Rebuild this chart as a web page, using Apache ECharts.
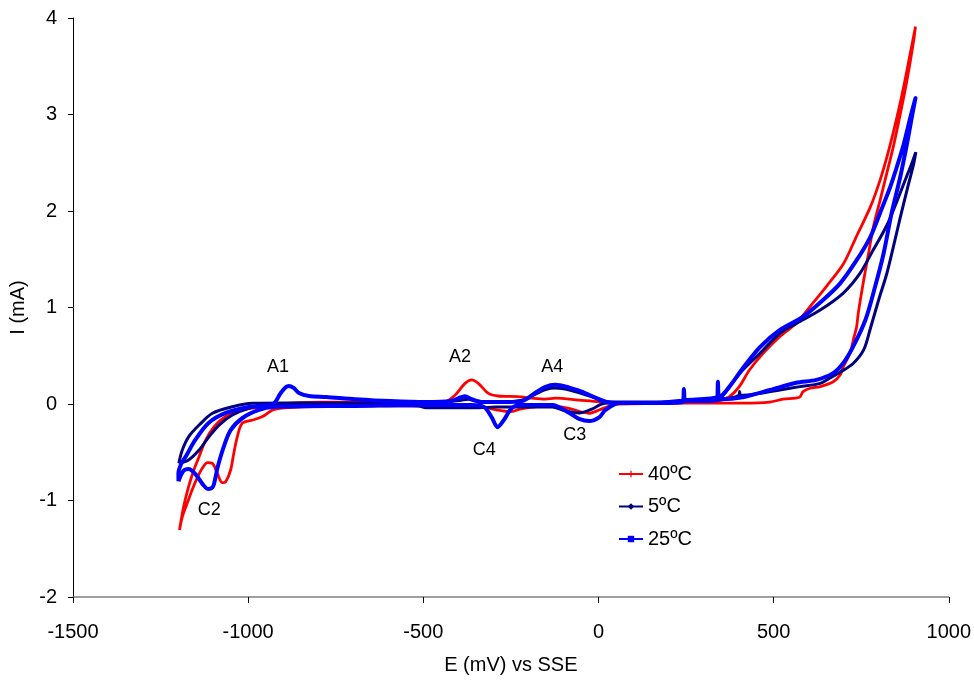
<!DOCTYPE html>
<html>
<head>
<meta charset="utf-8">
<script src="https://cdn.jsdelivr.net/npm/echarts@6/dist/echarts.min.js"></script>
<style>html,body{margin:0;padding:0;background:#fff}#c{width:974px;height:686px}</style>
</head>
<body>
<div id="c"></div>
<script>
// Series names
const seriesNames = ['40ºC', '5ºC', '25ºC'];

// 40 ºC : [E (mV), I (mA)]
const red40 = [
 [-1196,-1.306],[-1193,-1.24],[-1184,-1.06],[-1170,-0.857],[-1155,-0.684],[-1140,-0.546],[-1121,-0.373],
 [-1097,-0.235],[-1064,-0.13],[-1017,-0.062],[-959,-0.028],[-902,0],[-855,0.014],[-795,0.02],[-694,0.02],
 [-594,0.02],[-493,0.02],[-439,0.024],[-409,0.093],[-381,0.214],[-362,0.25],[-343,0.214],[-314,0.11],
 [-286,0.083],[-228,0.076],[-190,0.06],[-152,0.05],[-122,0.06],[-56,0.041],[2,0.024],[59,0.014],
 [212,0.01],[313,0.01],[413,0.01],[489,0.02],[527,0.05],[574,0.07],[584,0.128],[604,0.163],[633,0.18],
 [670,0.23],[690,0.30],[699,0.387],[718,0.525],[730,0.70],[737,0.80],[742,0.95],[757,1.28],[771,1.56],
 [785,1.84],[804,2.11],[823,2.39],[842,2.67],[862,3.01],[881,3.36],[900,3.77],[905,3.91],
 [891,3.65],[872,3.30],[852,2.97],[828,2.62],[804,2.32],[776,2.04],[737,1.74],[699,1.45],[651,1.22],
 [604,1.01],[565,0.836],[518,0.70],[470,0.525],[431,0.352],[402,0.18],[374,0.076],[346,0.04],[212,0.01],
 [59,0.0],[41,-0.01],[2,-0.062],[-28,-0.096],[-85,-0.045],[-141,-0.02],[-221,-0.05],[-251,-0.08],
 [-292,-0.06],[-332,-0.03],[-493,-0.02],[-694,-0.02],[-896,-0.04],[-930,-0.062],[-959,-0.13],[-987,-0.166],
 [-1017,-0.2],[-1031,-0.34],[-1041,-0.51],[-1050,-0.684],[-1064,-0.805],[-1074,-0.815],[-1088,-0.718],
 [-1102,-0.615],[-1116,-0.608],[-1131,-0.666],[-1146,-0.77],[-1160,-0.89],[-1174,-1.03],[-1188,-1.17],[-1196,-1.306]
];

// 5 ºC
const navy5 = [
 [-1198,-0.615],[-1188,-0.477],[-1170,-0.34],[-1140,-0.218],[-1102,-0.096],[-1045,-0.028],[-987,0.007],
 [-896,0.01],[-795,0.01],[-594,0.01],[-443,0.02],[-392,0.04],[-372,0.05],[-352,0.03],[-292,0.02],
 [-218,0.04],[-181,0.10],[-151,0.15],[-123,0.166],[-83,0.145],[-17,0.073],[31,0.02],[155,0.02],[346,0.041],
 [401,0.09],[403,0.13],[405,0.09],[461,0.11],[518,0.145],[575,0.18],[633,0.214],[661,0.27],[690,0.33],
 [727,0.42],[757,0.56],[776,0.78],[800,1.08],[823,1.35],[842,1.63],[862,1.94],[881,2.22],[900,2.49],[906,2.61],
 [893,2.48],[881,2.37],[852,2.10],[823,1.85],[785,1.60],[746,1.35],[699,1.15],[633,0.974],[565,0.836],
 [518,0.733],[461,0.525],[412,0.352],[374,0.18],[346,0.06],[249,0.03],[155,0.02],[31,0.01],[9,0],
 [-17,-0.05],[-55,-0.093],[-95,-0.07],[-132,-0.03],[-191,-0.03],[-292,-0.03],[-342,-0.04],[-493,-0.04],
 [-513,-0.02],[-694,-0.01],[-949,-0.01],[-998,-0.045],[-1045,-0.114],[-1083,-0.218],[-1112,-0.34],
 [-1140,-0.477],[-1170,-0.58],[-1198,-0.615]
];

// 25 ºC
const blue25 = [
 [-1199,-0.80],[-1199,-0.715],[-1190,-0.61],[-1179,-0.55],[-1151,-0.373],[-1113,-0.197],[-1064,-0.093],
 [-998,-0.031],[-929,0],[-907,0.114],[-892,0.176],[-884,0.187],[-870,0.166],[-855,0.114],[-826,0.083],
 [-777,0.073],[-694,0.05],[-594,0.03],[-493,0.02],[-423,0.03],[-392,0.07],[-381,0.08],[-362,0.05],
 [-332,0.02],[-271,0.02],[-218,0.03],[-181,0.114],[-153,0.176],[-123,0.20],[-83,0.17],[-50,0.13],
 [-26,0.093],[20,0.025],[60,0.01],[155,0.01],[240,0.02],[244,0.155],[248,0.03],[338,0.04],[341,0.23],
 [345,0.05],[412,0.07],[490,0.145],[564,0.22],[622,0.25],[670,0.32],[699,0.425],[727,0.594],[762,0.87],
 [790,1.22],[814,1.56],[837,1.98],[862,2.36],[881,2.70],[895,2.98],[905,3.17],
 [891,2.98],[872,2.70],[852,2.46],[833,2.25],[804,1.98],[776,1.73],[737,1.49],[690,1.25],[642,1.08],
 [584,0.905],[518,0.767],[461,0.59],[412,0.37],[374,0.18],[346,0.076],[249,0.04],[155,0.01],[60,0.01],
 [20,-0.062],[3,-0.135],[-26,-0.176],[-55,-0.155],[-83,-0.093],[-132,-0.01],[-218,-0.01],[-247,-0.04],
 [-270,-0.166],[-288,-0.24],[-305,-0.135],[-327,-0.03],[-362,-0.01],[-493,-0.01],[-694,-0.02],
 [-929,-0.031],[-969,-0.062],[-1016,-0.145],[-1050,-0.27],[-1070,-0.446],[-1087,-0.653],[-1093,-0.756],
 [-1101,-0.86],[-1115,-0.88],[-1130,-0.83],[-1151,-0.725],[-1170,-0.674],[-1185,-0.694],[-1199,-0.80]
];

// Peak annotations: [E, I] of label centre
const peakNames = ['A1', 'A2', 'A4', 'C4', 'C3', 'C2'];
const peakPos = [[-915,0.383],[-395,0.482],[-132,0.383],[-326,-0.482],[-68,-0.321],[-1111,-1.098]];

const FONT = '"Liberation Sans", Arial, sans-serif';
const chart = echarts.init(document.getElementById('c'), null, {renderer: 'canvas'});
const plusPath = 'path://M4,0H6V4H10V6H6V10H4V6H0V4H4Z';

chart.setOption({
  animation: false,
  backgroundColor: '#fff',
  grid: {left: 73, right: 24, top: 18, bottom: 89, containLabel: false},
  xAxis: {
    type: 'value', min: -1500, max: 1000, interval: 500,
    name: 'E (mV) vs SSE', nameLocation: 'middle', nameGap: 58,
    nameTextStyle: {fontFamily: FONT, fontSize: 20, color: '#000'},
    axisLine: {onZero: false, lineStyle: {color: '#808080', width: 1.5}},
    axisTick: {show: true, inside: false, length: 6, lineStyle: {color: '#000'}},
    axisLabel: {fontFamily: FONT, fontSize: 20, color: '#000', margin: 25, formatter: v => String(v)},
    splitLine: {show: false}
  },
  yAxis: {
    type: 'value', min: -2, max: 4, interval: 1,
    name: 'I (mA)', nameLocation: 'middle', nameGap: 38, nameRotate: 90,
    nameTextStyle: {fontFamily: FONT, fontSize: 20, color: '#000'},
    axisLine: {onZero: false, lineStyle: {color: '#000', width: 1}},
    axisTick: {show: true, inside: false, length: 5, lineStyle: {color: '#000'}},
    axisLabel: {fontFamily: FONT, fontSize: 20, color: '#000', margin: 16, formatter: v => String(v)},
    splitLine: {show: false}
  },
  legend: {
    orient: 'vertical', left: 618, top: 464, padding: 0, itemWidth: 24, itemHeight: 8, itemGap: 12.5,
    textStyle: {fontFamily: FONT, fontSize: 20, color: '#000'},
    data: seriesNames
  },
  series: [
    {name: seriesNames[0], type: 'line', data: red40, showSymbol: false, symbol: plusPath, symbolSize: 5,
     smooth: 0.3, lineStyle: {color: '#FF0000', width: 2.8}, itemStyle: {color: '#FF0000'}, z: 2},
    {name: seriesNames[1], type: 'line', data: navy5, showSymbol: false, symbol: 'diamond', symbolSize: 5,
     smooth: 0.3, lineStyle: {color: '#000080', width: 3}, itemStyle: {color: '#000080'}, z: 3},
    {name: seriesNames[2], type: 'line', data: blue25, showSymbol: false, symbol: 'rect', symbolSize: 5,
     smooth: 0.3, lineStyle: {color: '#0000FF', width: 4}, itemStyle: {color: '#0000FF'}, z: 4},
    {name: 'peaks', type: 'scatter', symbolSize: 1, silent: true, z: 10,
     itemStyle: {color: 'rgba(0,0,0,0)', opacity: 1},
     data: peakPos.map((p, i) => ({name: peakNames[i], value: p})),
     label: {show: true, position: 'inside', formatter: '{b}', fontFamily: FONT, fontSize: 18,
             color: '#000', opacity: 1, textBorderWidth: 0, textBorderColor: 'transparent'}}
  ]
});
</script>
</body>
</html>
